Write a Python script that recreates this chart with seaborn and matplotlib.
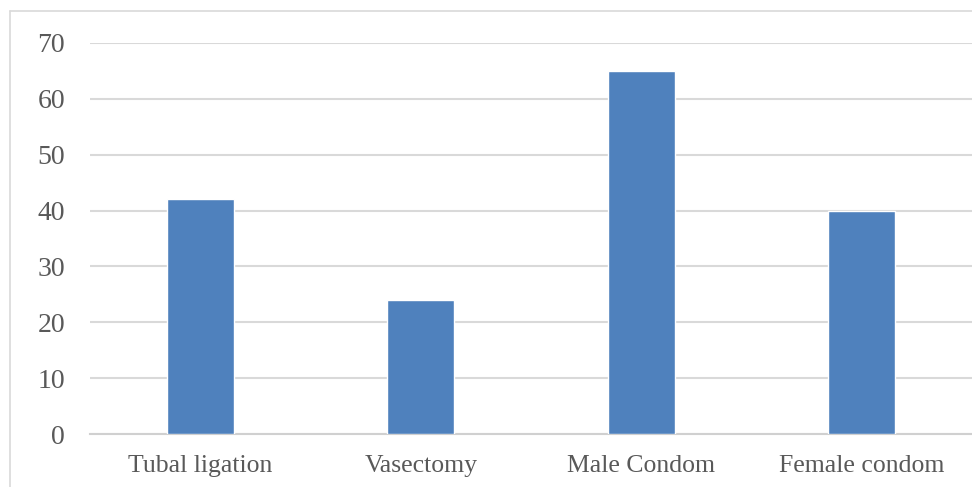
import matplotlib
matplotlib.use("Agg")
import matplotlib.pyplot as plt
from matplotlib.lines import Line2D
import seaborn as sns
import pandas as pd

methods = ["Tubal ligation", "Vasectomy", "Male Condom", "Female condom"]
counts = [42, 24, 65, 40]
y_ticks = [0, 10, 20, 30, 40, 50, 60, 70]

sns.set_theme(style="white")
plt.rcParams["font.family"] = ["Liberation Serif", "DejaVu Serif"]

df = pd.DataFrame({"method": methods, "count": counts})

fig = plt.figure(figsize=(9.72, 4.87), dpi=100)
ax = fig.add_axes([90 / 972, 53 / 487, 882 / 972, 391 / 487])

sns.barplot(data=df, x="method", y="count", color="#4f81bd", saturation=1,
            width=0.305, ax=ax, zorder=3)

ax.set_ylim(0, 70)
ax.set_xlim(-0.5, 3.5)
ax.set_yticks(y_ticks)
ax.yaxis.grid(True, color="#d9d9d9", linewidth=1.5, zorder=0)
ax.set_axisbelow(True)
for side in ["top", "right", "left"]:
    ax.spines[side].set_visible(False)
ax.spines["bottom"].set_color("#d0d0d0")
ax.spines["bottom"].set_linewidth(1.5)
ax.set_xlabel("")
ax.set_ylabel("")
ax.tick_params(axis="y", length=0, pad=18, labelsize=20, labelcolor="#595959")
ax.tick_params(axis="x", length=0, pad=15, labelsize=18.5, labelcolor="#595959")

# outer frame of the chart area
frame_kw = dict(color="#d9d9d9", linewidth=1.2, transform=fig.transFigure)
fig.add_artist(Line2D([10 / 972, 10 / 972], [0, 1 - 11 / 487], **frame_kw))
fig.add_artist(Line2D([10 / 972, 1], [1 - 11 / 487, 1 - 11 / 487], **frame_kw))

fig.savefig("out.png", dpi=100)
